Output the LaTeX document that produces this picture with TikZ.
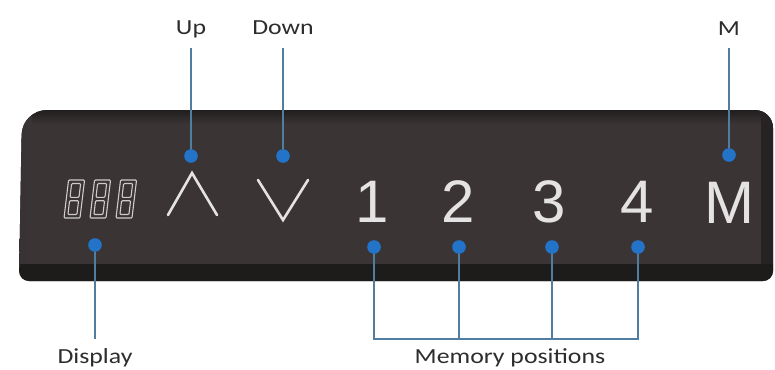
\documentclass[tikz,border=0pt]{standalone}
\usepackage{fontspec}
\setmainfont{Carlito}
\newfontfamily\keyfont{Liberation Sans}
\definecolor{panelface}{RGB}{58,52,53}
\definecolor{paneledge}{RGB}{30,27,27}
\definecolor{panelside}{RGB}{50,45,46}
\definecolor{keywhite}{RGB}{228,226,226}
\definecolor{segwhite}{RGB}{205,203,203}
\definecolor{dotblue}{RGB}{35,115,200}
\definecolor{leadblue}{RGB}{80,125,160}
\definecolor{tagtext}{RGB}{45,45,45}
\usetikzlibrary{positioning}

\begin{document}
\begin{tikzpicture}[x=1pt,y=-1pt,
    tag/.style={font=\fontsize{21.5}{24}\selectfont, text=tagtext, xscale=1.2, inner sep=0pt, anchor=base},
    key/.style={font=\keyfont\fontsize{60}{60}\selectfont, text=keywhite, inner sep=0pt, anchor=base},
    chevron/.style={keywhite, line width=2.6pt, line cap=round},
    lead/.style={leadblue, line width=1.3pt},
    bdot/.style={fill=dotblue}]
  \useasboundingbox[fill=white] (0,0) rectangle (775,369);

  % Panel body
  \begin{scope}
    \clip (400,110) [rounded corners=18pt] -- (773,110) [rounded corners=10pt]
      -- (773,281) -- (19,281) [rounded corners=25pt] -- (22,110) -- cycle;
    \fill[panelface] (0,0) rectangle (775,369);
    \shade[top color=paneledge, bottom color=panelface] (0,108) rectangle (775,124);
    \shade[left color=panelside, right color=panelface] (0,0) rectangle (32,264);
    \fill[paneledge!70!panelface] (761,0) rectangle (775,264);
    \fill[paneledge] (0,264) rectangle (775,369);
  \end{scope}

  % Display 888
  \foreach \i in {0,1,2}{
    \begin{scope}[shift={(64+\i*26,218)}, y=1pt, xslant=0.12]
      \draw[segwhite, line width=1.1pt, rounded corners=1pt]
        (0,0) rectangle (16,38) (3.5,3.5) rectangle (12.5,17.3)
        (3.5,20.7) rectangle (12.5,34.5);
    \end{scope}
  }

  % Keys
  \draw[chevron] (168,215) -- (192,173) -- (217,215);
  \draw[chevron] (258,180) -- (283,220) -- (308,180);
  \node[key] (k1) at (372,222) {1};
  \node[key] (k2) at (458,222) {2};
  \node[key] (k3) at (549,222) {3};
  \node[key] (k4) at (637,222) {4};
  \node[key] (km) at (729,223) {M};

  % Labels
  \node[tag] (tup) at (191,35) {Up};
  \node[tag] (tdown) at (283,35) {Down};
  \node[tag] (tm) at (729,36) {M};
  \node[tag] (tdisp) at (95,363) {Display};
  \node[tag] (tmem) at (510,363) {Memory positions};

  % Dot positions
  \coordinate (pdisp) at (95,245);
  \coordinate (pup) at (191,156);
  \coordinate (pdown) at (283,156);
  \coordinate (pm) at (729,155);
  \coordinate (p1) at (374,247);
  \coordinate (p2) at (459,247);
  \coordinate (p3) at (552,247);
  \coordinate (p4) at (638,247);
  \coordinate (mbar) at (0,339);

  % Leader lines
  \draw[lead] ([yshift=-13pt]tup.base) -- (pup);
  \draw[lead] ([yshift=-13pt]tdown.base) -- (pdown);
  \draw[lead] ([yshift=-12pt]tm.base) -- (pm);
  \draw[lead] (pdisp) -- (pdisp |- mbar);
  \draw[lead] (p1) -- (p1 |- mbar) -- (p4 |- mbar) -- (p4);
  \foreach \p in {p2,p3}
    \draw[lead] (\p) -- (\p |- mbar);

  % Dots
  \foreach \p in {pdisp,pup,pdown,pm,p1,p2,p3,p4}
    \fill[bdot] (\p) circle (6.8pt);
\end{tikzpicture}
\end{document}
